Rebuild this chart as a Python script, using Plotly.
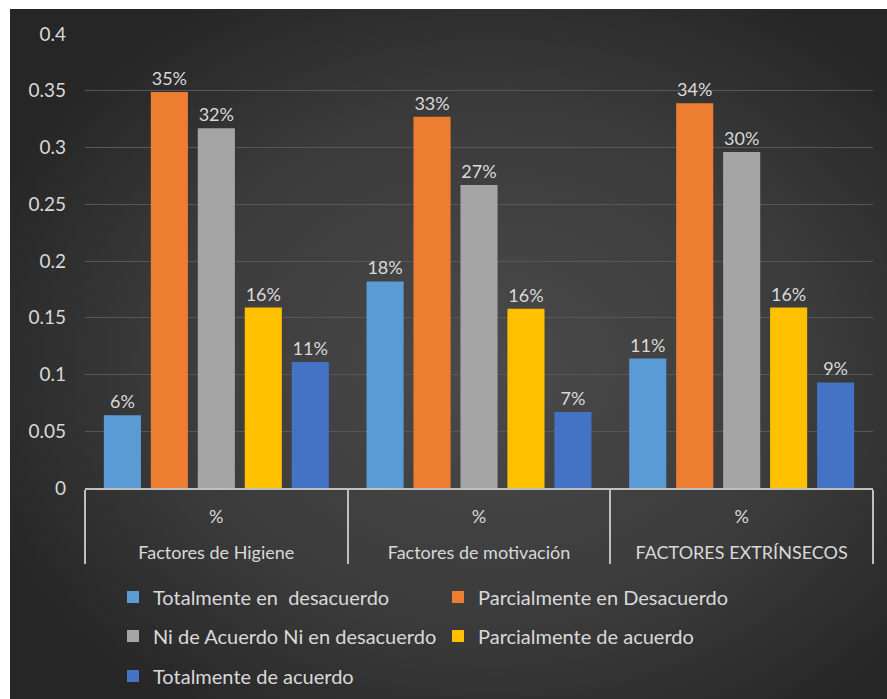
import base64
import plotly.graph_objects as go

categories = ["Factores de Higiene", "Factores de motivación", "FACTORES EXTRÍNSECOS"]
sub_labels = ["%", "%", "%"]
series_names = [
    "Totalmente en  desacuerdo",
    "Parcialmente en Desacuerdo",
    "Ni de Acuerdo Ni en desacuerdo",
    "Parcialmente de acuerdo",
    "Totalmente de acuerdo",
]
totalmente_desacuerdo = [0.064, 0.182, 0.114]
parcialmente_desacuerdo = [0.349, 0.327, 0.339]
ni_acuerdo = [0.317, 0.267, 0.296]
parcialmente_acuerdo = [0.159, 0.158, 0.159]
totalmente_acuerdo = [0.111, 0.067, 0.093]
series_values = [totalmente_desacuerdo, parcialmente_desacuerdo, ni_acuerdo,
                 parcialmente_acuerdo, totalmente_acuerdo]
colors = ["#5B9BD5", "#ED7D31", "#A5A5A5", "#FFC000", "#4472C4"]
legend_ids = ["legend", "legend", "legend2", "legend2", "legend3"]

FONT = "Lato"
TXT = "#D9D9D9"

# inner label gets an empty second line to space the two label rows like the original
inner_labels = [s + "<br> " for s in sub_labels]

fig = go.Figure()
for name, vals, col, lg in zip(series_names, series_values, colors, legend_ids):
    fig.add_trace(go.Bar(
        name=name,
        x=[categories, inner_labels],
        y=vals,
        marker=dict(color=col, line=dict(width=0)),
        texttemplate="%{y:.0%}",
        textposition="outside",
        textfont=dict(family=FONT, size=18, color=TXT),
        constraintext="none",
        cliponaxis=False,
        legend=lg,
        hoverinfo="skip",
    ))

svg = """<svg xmlns='http://www.w3.org/2000/svg' width='877' height='690' viewBox='0 0 877 690' preserveAspectRatio='none'>
<defs><radialGradient id='g' cx='55%' cy='52%' r='62%'>
<stop offset='0' stop-color='#4a4a4a'/><stop offset='0.6' stop-color='#3b3b3b'/><stop offset='1' stop-color='#262626'/>
</radialGradient></defs><rect width='877' height='690' fill='url(#g)'/></svg>"""
bg_src = "data:image/svg+xml;base64," + base64.b64encode(svg.encode()).decode()

# plot area pixels: x 85..873, y 34..488
L, R, T, B = 85, 873, 34, 488
pw, ph = R - L, B - T
def px_x(p):
    return (p - L) / pw
def px_y(p):
    return (B - p) / ph

fig.add_layout_image(dict(
    source=bg_src, xref="paper", yref="paper",
    x=px_x(10), y=px_y(9), sizex=(887 - 10) / pw, sizey=(699 - 9) / ph,
    xanchor="left", yanchor="top", sizing="stretch", layer="below",
))

leg_common = dict(orientation="h", font=dict(family=FONT, size=20, color=TXT),
                  bgcolor="rgba(0,0,0,0)", borderwidth=0, entrywidth=280,
                  entrywidthmode="pixels", xanchor="left", yanchor="middle",
                  itemclick=False, itemdoubleclick=False, traceorder="normal")

fig.update_layout(
    width=887, height=699,
    margin=dict(l=L, r=887 - R, t=T, b=699 - B, autoexpand=False),
    paper_bgcolor="white",
    plot_bgcolor="rgba(0,0,0,0)",
    barmode="group",
    bargap=0.106,
    bargroupgap=0.21,
    showlegend=True,
    legend=dict(leg_common, x=px_x(113), y=px_y(597)),
    legend2=dict(leg_common, x=px_x(113), y=px_y(636)),
    legend3=dict(leg_common, x=px_x(113), y=px_y(676)),
    xaxis=dict(
        type="multicategory", automargin=False,
        showline=True, linecolor="#BFBFBF", linewidth=1.5,
        showdividers=True, dividercolor="#BFBFBF", dividerwidth=1.5,
        tickfont=dict(family=FONT, size=18, color=TXT),
        ticklabelstandoff=12,
        showgrid=False, zeroline=False,
    ),
    yaxis=dict(
        range=[0, 0.4], dtick=0.05, tick0=0, automargin=False,
        showgrid=True, gridcolor="#575757", gridwidth=1,
        zeroline=False, showline=False,
        tickfont=dict(family=FONT, size=19, color=TXT),
        ticks="", ticklabelstandoff=18,
    ),
)

fig.write_html("out.html")
